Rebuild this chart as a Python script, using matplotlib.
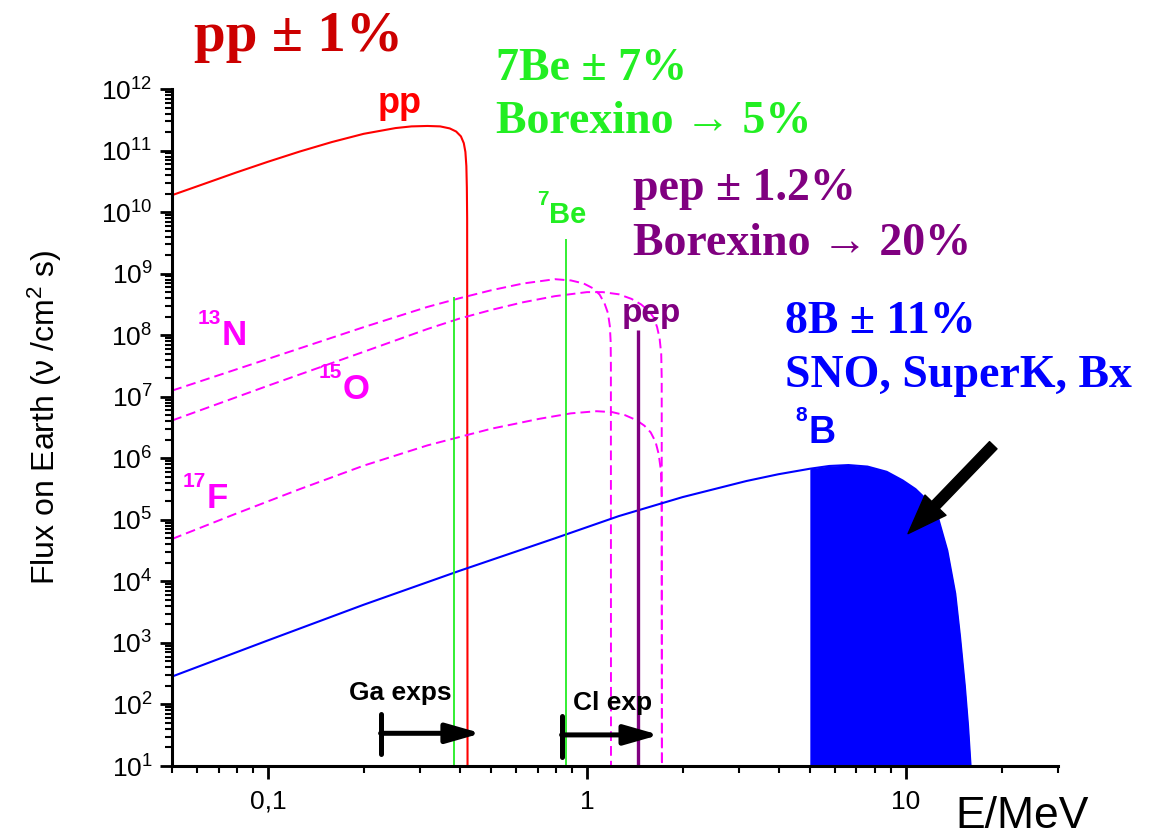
import numpy as np
import matplotlib.pyplot as plt
from matplotlib.ticker import LogLocator, NullFormatter

plt.rcParams['font.family'] = ['Liberation Sans', 'DejaVu Sans']
plt.rcParams['mathtext.fontset'] = 'custom'
plt.rcParams['mathtext.rm'] = 'Liberation Sans'
plt.rcParams['mathtext.it'] = 'Liberation Sans:italic'
plt.rcParams['mathtext.bf'] = 'Liberation Sans:bold'

SERIF = ['Liberation Serif', 'DejaVu Serif']

# Solar neutrino spectra (E in MeV, flux in 1/(cm^2 s MeV); lines in 1/(cm^2 s))
pp_E = [0.0501, 0.0631, 0.0794, 0.1, 0.1259, 0.1585, 0.1995, 0.2512, 0.2818, 0.3162,
        0.3467, 0.3715, 0.389, 0.4027, 0.4111, 0.4159, 0.4188, 0.4203, 0.4212, 0.4225]
pp_F = [1.89e10, 2.88e10, 4.39e10, 6.58e10, 9.66e10, 1.374e11, 1.87e11, 2.32e11, 2.47e11, 2.51e11,
        2.47e11, 2.29e11, 2.04e11, 1.70e11, 1.32e11, 9.5e10, 5.6e10, 2.5e10, 7.9e9, 1.0]

N13_E = [0.0501, 0.1, 0.1995, 0.3162, 0.398, 0.501, 0.631, 0.794, 0.891, 0.977,
         1.047, 1.096, 1.135, 1.164, 1.180, 1.187, 1.189, 1.190]
N13_F = [1.26e7, 4.12e7, 1.35e8, 2.88e8, 3.98e8, 5.37e8, 6.92e8, 8.13e8, 7.76e8, 6.92e8,
         5.75e8, 4.57e8, 3.31e8, 2.29e8, 1.41e8, 7.9e7, 3.2e7, 1.0]

O15_E = [0.0501, 0.1, 0.1995, 0.3162, 0.398, 0.501, 0.631, 0.794, 1.0, 1.122,
         1.259, 1.380, 1.479, 1.567, 1.622, 1.660, 1.690, 1.710, 1.716, 1.718]
O15_F = [4.12e6, 1.51e7, 5.37e7, 1.26e8, 1.86e8, 2.57e8, 3.43e8, 4.31e8, 5.01e8, 5.01e8,
         4.62e8, 3.89e8, 3.16e8, 2.45e8, 1.91e8, 1.35e8, 8.9e7, 5.0e7, 2.0e7, 1.0]

F17_E = [0.0501, 0.0794, 0.1259, 0.1995, 0.3162, 0.501, 0.708, 0.891, 1.072, 1.202,
         1.318, 1.429, 1.514, 1.585, 1.641, 1.679, 1.706, 1.716, 1.720]
F17_F = [4.9e4, 1.26e5, 3.16e5, 7.59e5, 1.62e6, 3.02e6, 4.37e6, 5.37e6, 5.82e6, 5.62e6,
         5.01e6, 4.17e6, 3.39e6, 2.63e6, 1.86e6, 1.17e6, 6.3e5, 2.5e5, 1.0]

B8_E = np.array([0.0501, 0.1, 0.1995, 0.398, 0.794, 1.259, 1.995, 3.162, 3.981, 5.0,
                 5.754, 6.607, 7.586, 8.71, 9.77, 10.72, 11.75, 12.59, 13.49, 14.29,
                 14.79, 15.31, 15.67, 15.96, 16.1])
B8_F = np.array([285, 1.10e3, 4.17e3, 1.48e4, 5.01e4, 1.15e5, 2.34e5, 4.27e5, 5.50e5, 6.76e5,
                 7.50e5, 7.76e5, 7.33e5, 6.03e5, 4.37e5, 3.16e5, 2.0e5, 1.12e5, 3.16e4, 6.3e3,
                 1.26e3, 200, 45, 10, 1.0])

# mono-energetic lines: energy, line height
be7_E = [0.384, 0.862]
be7_F = [4.2e8, 3.6e9]
pep_E = 1.442
pep_F = 1.2e8

# detection thresholds (MeV) and arrow tips
ga_thr, ga_tip = 0.2255, 0.466
cl_thr, cl_tip = 0.833, 1.686

fig = plt.figure(figsize=(11.62, 8.39), dpi=100)
ax = fig.add_axes([0.148, 0.087, 0.7625, 0.8069])
ax.set_xscale('log')
ax.set_yscale('log')
ax.set_xlim(0.05, 30)
ax.set_ylim(10, 1e12)

ax.plot(pp_E, pp_F, color='#ff0000', lw=1.5)
dash = (0, (5, 2.6))
ax.plot(N13_E, N13_F, color='#ff00ff', lw=1.4, ls=dash)
ax.plot(O15_E, O15_F, color='#ff00ff', lw=1.4, ls=dash)
ax.plot(F17_E, F17_F, color='#ff00ff', lw=1.4, ls=dash)
ax.plot(B8_E, B8_F, color='#0000ff', lw=1.5)
hi = B8_E >= 5.0
ax.fill_between(B8_E[hi], B8_F[hi], 1.0, color='#0000ff', lw=0)

for e, f in zip(be7_E, be7_F):
    ax.vlines(e, 1.0, f, color='#22ee22', lw=1.3)
ax.vlines(pep_E, 1.0, pep_F, color='#800080', lw=2.4)

# threshold arrows
for thr, tip, y, lo, hi_ in [(ga_thr, ga_tip, 34, 15.4, 71), (cl_thr, cl_tip, 32, 13.9, 66)]:
    ax.vlines(thr, lo, hi_, color='black', lw=3.6, capstyle='round')
    ax.annotate('', xy=(tip, y), xytext=(thr, y),
                arrowprops=dict(arrowstyle='-|>,head_length=1.05,head_width=0.3',
                                mutation_scale=20, color='black', lw=3.6,
                                shrinkA=0, shrinkB=0))
ax.text(0.1795, 116, 'Ga exps', fontsize=19, fontweight='bold', ha='left', va='baseline')
ax.text(0.902, 80, 'Cl exp', fontsize=19, fontweight='bold', ha='left', va='baseline')

# arrow pointing at the 8B high energy part
ax.annotate('', xy=(10.16, 5.96e4), xytext=(18.8, 1.63e6),
            arrowprops=dict(arrowstyle='simple,head_length=0.95,head_width=0.7,tail_width=0.25',
                            mutation_scale=30, color='black', shrinkA=0, shrinkB=0),
            zorder=5)


def nuclide(x, y, mass, sym, color, size):
    ax.text(x, y, sym, color=color, fontsize=size, fontweight='bold',
            ha='left', va='baseline')
    ax.annotate(mass, xy=(x, y), xytext=(-0.5, size * 0.6), textcoords='offset points',
                color=color, fontsize=15, fontweight='bold', ha='right', va='baseline')


ax.text(0.221, 4.07e11, 'pp', color='#ff0000', fontsize=26, fontweight='bold', va='baseline')
nuclide(0.760, 6.7e9, '7', 'Be', '#22ee22', 21)
ax.text(1.285, 1.63e8, 'pep', color='#800080', fontsize=24, fontweight='bold', va='baseline')
nuclide(0.0716, 6.9e7, '13', 'N', '#ff00ff', 25)
nuclide(0.172, 9.1e6, '15', 'O', '#ff00ff', 25)
nuclide(0.0643, 1.58e5, '17', 'F', '#ff00ff', 25)
nuclide(4.94, 1.77e6, '8', 'B', '#0000ff', 27)

# flux uncertainties and experiments
big = dict(family=SERIF, fontweight='bold', va='baseline', ha='left')
fig.text(194 / 1162, 1 - 51 / 839, 'pp ± 1%', color='#cc0000', fontsize=41, **big)
fig.text(496 / 1162, 1 - 80 / 839, '7Be ± 7%', color='#22ee22', fontsize=33, **big)
fig.text(496 / 1162, 1 - 133 / 839, 'Borexino → 5%', color='#22ee22', fontsize=33, **big)
fig.text(633 / 1162, 1 - 200 / 839, 'pep ± 1.2%', color='#800080', fontsize=33, **big)
fig.text(633 / 1162, 1 - 255 / 839, 'Borexino → 20%', color='#800080', fontsize=33, **big)
fig.text(785 / 1162, 1 - 333 / 839, '8B ± 11%', color='#0000ff', fontsize=33, **big)
fig.text(785 / 1162, 1 - 387 / 839, 'SNO, SuperK, Bx', color='#0000ff', fontsize=33, **big)

# axes styling
for side in ['top', 'right']:
    ax.spines[side].set_visible(False)
for side in ['left', 'bottom']:
    ax.spines[side].set_linewidth(2.2)
ax.tick_params(which='major', direction='out', length=9, width=2, labelsize=19)
ax.tick_params(which='minor', direction='out', length=5, width=1.5)
ax.tick_params(axis='x', which='major', pad=8)
ax.tick_params(axis='y', which='major', pad=5)
ax.set_xticks([0.1, 1, 10])
ax.set_xticklabels(['0,1', '1', '10'])
ax.xaxis.set_minor_locator(LogLocator(base=10, subs=np.arange(2, 10)))
ax.xaxis.set_minor_formatter(NullFormatter())
ax.set_yticks([10.0 ** k for k in range(1, 13)])
ax.set_yticklabels([r'$\mathdefault{10^{%d}}$' % k for k in range(1, 13)])
ax.yaxis.set_minor_locator(LogLocator(base=10, subs=np.arange(2, 10), numticks=20))
ax.yaxis.set_minor_formatter(NullFormatter())
ax.set_ylim(10, 1e12)

fig.text(45 / 1162, 1 - 417 / 839, r'Flux on Earth (ν /cm$^{2}$ s)', rotation=90,
         fontsize=23, ha='center', va='center')
fig.text(955 / 1162, 0.002, 'E/MeV', fontsize=32, ha='left', va='bottom')

plt.savefig('out.png', dpi=100)
